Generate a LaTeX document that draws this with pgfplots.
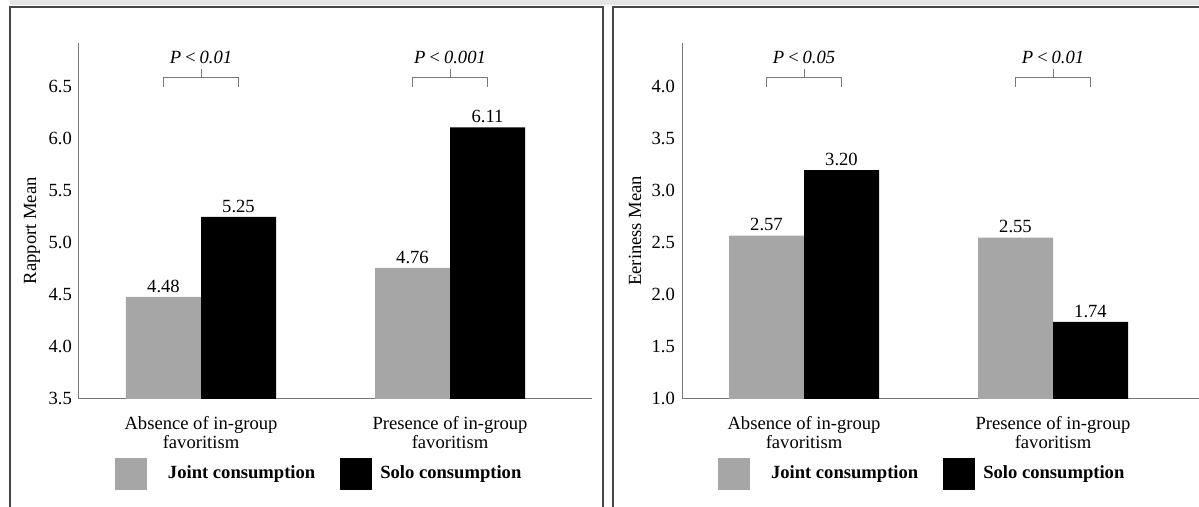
\documentclass[border=0pt]{standalone}
\usepackage{pgfplots}
\pgfplotsset{compat=1.18}
\usepackage{fontspec}
\setmainfont{Liberation Serif}
\definecolor{barg}{RGB}{166,166,166}
\definecolor{axg}{RGB}{120,120,120}
\definecolor{frm}{RGB}{70,70,70}
\newcommand{\fs}{\fontsize{9.3}{9.2}\selectfont}
\newcommand{\lt}{\hspace{1.5pt}<\hspace{1.5pt}}
\tikzset{brk/.style={draw=axg, line width=0.5pt}}
\pgfplotsset{
  mystyle/.style={
    scale only axis, height=178pt,
    ybar, bar width=37.5pt,
    axis x line*=bottom, axis y line*=left,
    axis line style={draw=axg, line width=0.5pt},
    major tick length=0pt,
    xtick={122,371}, xmin=0,
    xticklabels={{Absence of in-group\\favoritism},{Presence of in-group\\favoritism}},
    xticklabel style={align=center, font=\fs, yshift=-5.5pt},
    yticklabel style={font=\fs, /pgf/number format/.cd, fixed, fixed zerofill, precision=1},
    /pgf/number format/assume math mode=true,
    nodes near coords,
    nodes near coords style={font=\fs, inner sep=2pt, /pgf/number format/.cd, fixed, fixed zerofill, precision=2, assume math mode=true},
    ylabel style={font=\fs, anchor=center},
    legend image code/.code={\fill[##1] (0pt,-8pt) rectangle (16pt,8pt);},
    legend columns=2,
    legend style={draw=none, fill=none, inner sep=0pt, outer sep=0pt, column sep=0pt,
      anchor=west,
      /tikz/every even column/.append style={column sep=12.5pt},
      nodes={inner sep=0pt, outer sep=0pt, anchor=west, font=\fs\bfseries}},
  },
}
\begin{document}
\begin{tikzpicture}[x=0.5pt,y=0.5pt]
\useasboundingbox (0,0) rectangle (1199,507);
\fill[black!10] (10,502) rectangle (1199,507);
\draw[frm, line width=1pt] (10,-50) -- (10,500) -- (603,500) -- (603,-50);
\draw[frm, line width=1pt] (613,-50) -- (613,500) -- (1260,500);
% left panel
\begin{axis}[mystyle, at={(79,104)}, anchor=south west, width=256.5pt,
  xmax=513, ymin=3.5, ymax=6.923, ytick={3.5,4.0,...,6.5},
  ylabel={Rapport Mean},
  ylabel style={at={(axis description cs:-47/513,0.472)}},
  legend style={at={(axis description cs:36/513,-75/356)}}]
\addplot[fill=barg, draw=none, bar shift=-18.75pt] coordinates {(122,4.48) (371,4.76)};
\addplot[fill=black, draw=none, bar shift=18.75pt] coordinates {(122,5.25) (371,6.11)};
\legend{\hspace{10.5pt}Joint consumption,\hspace{4pt}Solo consumption}
\draw[brk] (axis cs:84.5,6.5) -- (axis cs:84.5,6.587) -- (axis cs:159.5,6.587) -- (axis cs:159.5,6.5);
\draw[brk] (axis cs:122,6.587) -- (axis cs:122,6.67);
\node[font=\fs\itshape] at (axis cs:122,6.78) {P\lt 0.01};
\draw[brk] (axis cs:333.5,6.5) -- (axis cs:333.5,6.587) -- (axis cs:408.5,6.587) -- (axis cs:408.5,6.5);
\draw[brk] (axis cs:371,6.587) -- (axis cs:371,6.67);
\node[font=\fs\itshape] at (axis cs:371,6.78) {P\lt 0.001};
\end{axis}
% right panel
\begin{axis}[mystyle, at={(682,104)}, anchor=south west, width=260pt,
  xmax=520, ymin=1.0, ymax=4.423, ytick={1.0,1.5,...,4.0},
  ylabel={Eeriness Mean},
  ylabel style={at={(axis description cs:-47/520,0.472)}},
  legend style={at={(axis description cs:36/520,-75/356)}}]
\addplot[fill=barg, draw=none, bar shift=-18.75pt] coordinates {(122,2.57) (371,2.55)};
\addplot[fill=black, draw=none, bar shift=18.75pt] coordinates {(122,3.20) (371,1.74)};
\legend{\hspace{10.5pt}Joint consumption,\hspace{4pt}Solo consumption}
\draw[brk] (axis cs:84.5,4.0) -- (axis cs:84.5,4.087) -- (axis cs:159.5,4.087) -- (axis cs:159.5,4.0);
\draw[brk] (axis cs:122,4.087) -- (axis cs:122,4.17);
\node[font=\fs\itshape] at (axis cs:122,4.28) {P\lt 0.05};
\draw[brk] (axis cs:333.5,4.0) -- (axis cs:333.5,4.087) -- (axis cs:408.5,4.087) -- (axis cs:408.5,4.0);
\draw[brk] (axis cs:371,4.087) -- (axis cs:371,4.17);
\node[font=\fs\itshape] at (axis cs:371,4.28) {P\lt 0.01};
\end{axis}
\end{tikzpicture}
\end{document}
